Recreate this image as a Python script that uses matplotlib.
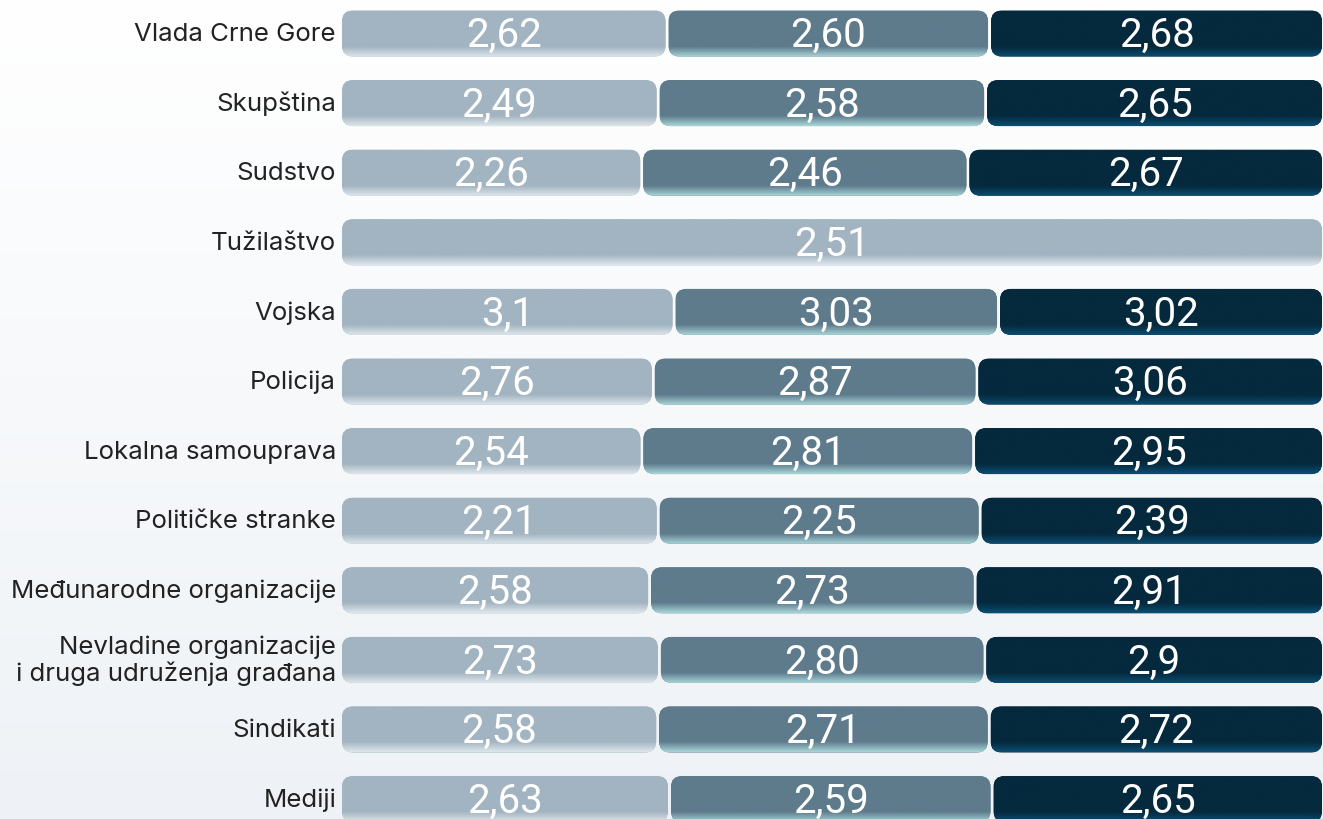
import numpy as np
import matplotlib.pyplot as plt
from matplotlib.patches import FancyBboxPatch
from matplotlib.colors import LinearSegmentedColormap

# podaci
kategorije = [
    "Vlada Crne Gore", "Skupština", "Sudstvo", "Tužilaštvo", "Vojska",
    "Policija", "Lokalna samouprava", "Političke stranke",
    "Međunarodne organizacije",
    "Nevladine organizacije\ni druga udruženja građana",
    "Sindikati", "Mediji",
]
serija_1 = [2.62, 2.49, 2.26, 2.51, 3.10, 2.76, 2.54, 2.21, 2.58, 2.73, 2.58, 2.63]
serija_2 = [2.60, 2.58, 2.46, None, 3.03, 2.87, 2.81, 2.25, 2.73, 2.80, 2.71, 2.59]
serija_3 = [2.68, 2.65, 2.67, None, 3.02, 3.06, 2.95, 2.39, 2.91, 2.90, 2.72, 2.65]
oznake_1 = ["2,62", "2,49", "2,26", "2,51", "3,1", "2,76", "2,54", "2,21", "2,58", "2,73", "2,58", "2,63"]
oznake_2 = ["2,60", "2,58", "2,46", None, "3,03", "2,87", "2,81", "2,25", "2,73", "2,80", "2,71", "2,59"]
oznake_3 = ["2,68", "2,65", "2,67", None, "3,02", "3,06", "2,95", "2,39", "2,91", "2,9", "2,72", "2,65"]

boje = ["#a2b4c1", "#5e7b8c", "#05293d"]
boje_dno = ["#dde5ea", "#a6d3d6", "#0b4d70"]

W, H = 1323, 820
fig = plt.figure(figsize=(W / 100, H / 100), dpi=100)
ax = fig.add_axes([0, 0, 1, 1])
ax.set_xlim(0, W)
ax.set_ylim(H, 0)
ax.axis("off")

# pozadina
bg = LinearSegmentedColormap.from_list("bg", ["#ffffff", "#eef2f6"])
ax.imshow(np.linspace(0, 1, 256).reshape(-1, 1), cmap=bg, extent=[0, W, H, 0],
          aspect="auto", zorder=0)

x0, x1 = 342, 1322
y_prvi, korak, visina = 34.5, 69.6, 46
razmak = 3


def traka(xl, xr, yc, boja, boja_dno):
    p = FancyBboxPatch((xl, yc - visina / 2), xr - xl, visina,
                       boxstyle="round,pad=0,rounding_size=11",
                       facecolor=boja, edgecolor="none", zorder=2)
    ax.add_patch(p)
    cm = LinearSegmentedColormap.from_list("g", [(0, boja), (0.78, boja), (1, boja_dno)])
    im = ax.imshow(np.linspace(0, 1, 64).reshape(-1, 1), cmap=cm,
                   extent=[xl, xr, yc + visina / 2, yc - visina / 2],
                   aspect="auto", zorder=3)
    im.set_clip_path(p)


for i, kat in enumerate(kategorije):
    yc = y_prvi + i * korak
    ax.text(336, yc, kat, ha="right", va="center", fontsize=18.6,
            family="Inter", color="#222222", linespacing=1.1)
    vrijednosti = [v for v in (serija_1[i], serija_2[i], serija_3[i]) if v is not None]
    oznake = [o for o in (oznake_1[i], oznake_2[i], oznake_3[i]) if o is not None]
    ukupno = sum(vrijednosti)
    poc = x0
    for j, (v, o) in enumerate(zip(vrijednosti, oznake)):
        kraj = poc + v / ukupno * (x1 - x0)
        xl = poc + (razmak / 2 if j > 0 else 0)
        xr = kraj - (razmak / 2 if j < len(vrijednosti) - 1 else 0)
        traka(xl, xr, yc, boje[j], boje_dno[j])
        ax.text((xl + xr) / 2, yc + 1, o, ha="center", va="center",
                fontsize=29, family="Roboto", weight="normal", color="white", zorder=4)
        poc = kraj

fig.savefig("out.png", dpi=100)
